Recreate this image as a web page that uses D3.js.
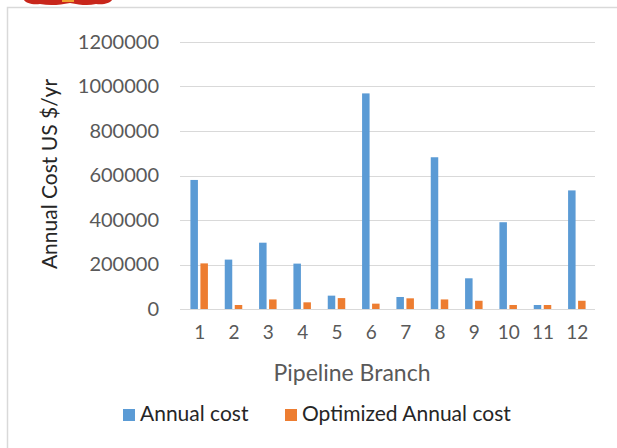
<!DOCTYPE html>
<html>
<head>
<meta charset="utf-8">
<script src="https://cdn.jsdelivr.net/npm/d3@7"></script>
<style>
  html, body { margin: 0; padding: 0; background: #fff; }
  svg { display: block; }
  text { font-family: Lato, "Open Sans", sans-serif; }
</style>
</head>
<body>
<svg id="chart" width="617" height="448"></svg>
<script>
// Pipeline branches and their annual costs (US $/yr)
const branches = ["1", "2", "3", "4", "5", "6", "7", "8", "9", "10", "11", "12"];
const annualCost = [580000, 222000, 298000, 204000, 60000, 969000, 54000, 682000, 138000, 390000, 18000, 533000];
const optimizedCost = [205000, 18000, 43000, 30000, 49000, 24000, 48000, 43000, 37000, 18000, 18000, 37000];
const yTicks = [0, 200000, 400000, 600000, 800000, 1000000, 1200000];
const seriesNames = ["Annual cost", "Optimized Annual cost"];
const seriesColors = ["#5b9bd5", "#ed7d31"];

const svg = d3.select("#chart");

// outer frame (top and left edges)
svg.append("path")
  .attr("d", "M7.5,448 V7.5 H617")
  .attr("fill", "none")
  .attr("stroke", "#d9d9d9")
  .attr("stroke-width", 1.5);

// red emblem peeking in at the top edge
svg.append("path")
  .attr("d", "M24,0 H112 C110,3 104,5 96,4 C88,6 80,5 70,3 C60,5 50,6 40,4 C32,5 26,3 24,0 Z")
  .attr("fill", "#c8261b");
svg.append("rect").attr("x", 62).attr("y", 0).attr("width", 12).attr("height", 2).attr("fill", "#f0a030");

const margin = { left: 182, right: 23, bottom: 139 };
const W = 617, H = 448;

const x = d3.scaleBand().domain(branches).range([margin.left, W - margin.right]);
const y = d3.scaleLinear().domain([0, 1200000]).range([H - margin.bottom, 42]);

// gridlines
svg.append("g")
  .selectAll("line")
  .data(yTicks)
  .join("line")
  .attr("x1", 180).attr("x2", 595)
  .attr("y1", d => Math.round(y(d)) + 0.5)
  .attr("y2", d => Math.round(y(d)) + 0.5)
  .attr("stroke", "#d9d9d9")
  .attr("stroke-width", 1.2);

// y axis labels
const yAxis = d3.axisLeft(y).tickValues(yTicks).tickSize(0).tickPadding(0).tickFormat(d3.format("d"));
svg.append("g")
  .attr("transform", "translate(159,0)")
  .call(yAxis)
  .call(g => g.select(".domain").remove())
  .call(g => g.selectAll("text")
    .attr("fill", "#595959")
    .style("font-size", "20px")
    .style("font-family", "Lato, sans-serif"));

// bars: the pair of bars sits centred in each branch slot
const bw = x.bandwidth();
const inner = d3.scaleBand().domain([0, 1]).range([bw / 2 - 8.75, bw / 2 + 8.75]).paddingInner(0.25);
const data = branches.map((b, i) => ({ b, vals: [annualCost[i], optimizedCost[i]] }));

const groups = svg.append("g").selectAll("g")
  .data(data)
  .join("g")
  .attr("transform", d => `translate(${x(d.b)},0)`);

groups.selectAll("rect")
  .data(d => d.vals.map((v, k) => ({ v, k })))
  .join("rect")
  .attr("x", d => inner(d.k))
  .attr("width", inner.bandwidth())
  .attr("y", d => y(d.v))
  .attr("height", d => y(0) - y(d.v))
  .attr("fill", d => seriesColors[d.k]);

// x axis labels
const xAxis = d3.axisBottom(x).tickSize(0).tickPadding(0);
svg.append("g")
  .attr("transform", `translate(0.5,${y(0) + 16})`)
  .call(xAxis)
  .call(g => g.select(".domain").remove())
  .call(g => g.selectAll("text")
    .attr("fill", "#595959")
    .attr("dy", "0.71em")
    .style("font-size", "19px")
    .style("font-family", "Lato, sans-serif"));

// axis titles
svg.append("text")
  .attr("x", 352).attr("y", 381)
  .attr("text-anchor", "middle")
  .attr("fill", "#595959")
  .style("font-size", "23px")
  .text("Pipeline Branch");

svg.append("text")
  .attr("transform", "translate(57,174) rotate(-90)")
  .attr("text-anchor", "middle")
  .attr("fill", "#262626")
  .style("font-size", "21px")
  .text("Annual Cost US $/yr");

// legend
const legendX = [123, 285];
const legend = svg.append("g").selectAll("g")
  .data(seriesNames)
  .join("g")
  .attr("transform", (d, i) => `translate(${legendX[i]},414)`);
legend.append("rect")
  .attr("x", 0).attr("y", -5).attr("width", 12).attr("height", 12)
  .attr("fill", (d, i) => seriesColors[i]);
legend.append("text")
  .attr("x", 17).attr("y", 0)
  .attr("dy", "0.35em")
  .attr("fill", "#262626")
  .style("font-size", "21px")
  .text(d => d);
</script>
</body>
</html>
